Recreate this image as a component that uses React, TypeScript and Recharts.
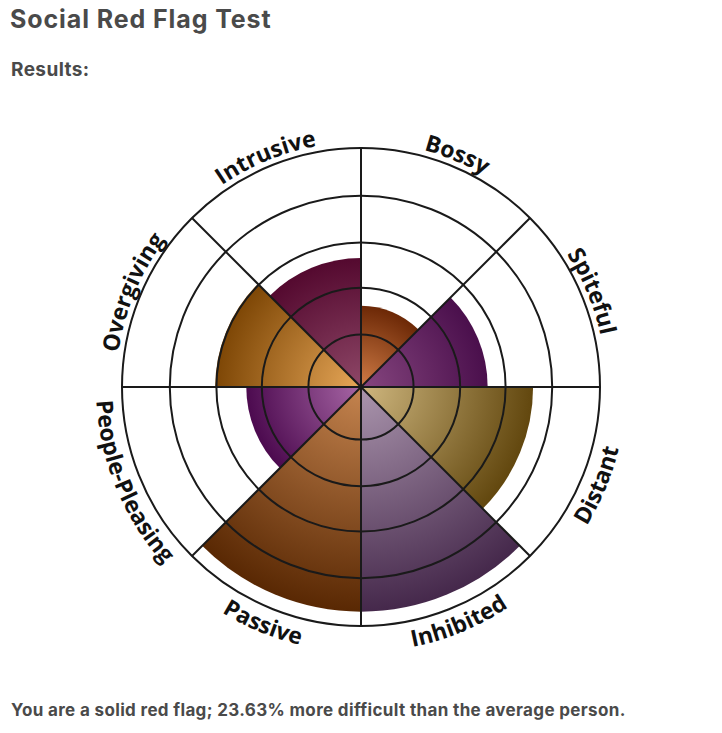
import React from 'react';
import { RadialBarChart, RadialBar, PolarGrid, PolarAngleAxis, PolarRadiusAxis, Sector } from 'recharts';

// clockwise from 12 o'clock
const traits = ['Bossy', 'Spiteful', 'Distant', 'Inhibited', 'Passive', 'People-Pleasing', 'Overgiving', 'Intrusive'];
const scores = [34, 53, 72, 94, 94, 48, 61, 54];
const innerColors = ['#d07c46', '#86467f', '#cfb77f', '#ab96ae', '#c5844f', '#a766a5', '#e7a758', '#8e4767'];
const outerColors = ['#6c2806', '#4a0f4c', '#62470e', '#45284b', '#592803', '#4c0a4f', '#7d4605', '#54092f'];
const ringTicks = [22, 41.5, 60.5, 80, 100];

const data = traits.map((name, i) => ({ name, value: scores[i] }));

const W = 722;
const H = 733;
const CX = 361;
const CY = 387;
const R = 239;
const FONT = 'Inter, "Noto Sans", sans-serif';
const STEP = 360 / traits.length;

const rad = (a: number) => (a * Math.PI) / 180;
const pt = (r: number, a: number) => [CX + r * Math.cos(rad(a)), CY - r * Math.sin(rad(a))];

const GradientSector = (props: any) => {
  const i = typeof props.index === 'number' ? props.index : traits.indexOf(props.payload?.name);
  const id = `rose-grad-${i}`;
  return (
    <g>
      <defs>
        <radialGradient id={id} gradientUnits="userSpaceOnUse" cx={props.cx} cy={props.cy} r={props.outerRadius}>
          <stop offset="0%" stopColor={innerColors[i]} />
          <stop offset="100%" stopColor={outerColors[i]} />
        </radialGradient>
      </defs>
      <Sector
        cx={props.cx}
        cy={props.cy}
        innerRadius={props.innerRadius}
        outerRadius={props.outerRadius}
        startAngle={props.startAngle}
        endAngle={props.endAngle}
        fill={`url(#${id})`}
        stroke="none"
      />
    </g>
  );
};

// labels follow the outer ring: upper half reads clockwise, lower half counter-clockwise
const CurvedLabel = (props: any) => {
  const name = props.payload?.value;
  const i = traits.indexOf(name);
  const mid = 90 - STEP * (i + 0.5);
  const upper = Math.sin(rad(mid)) > 0;
  const r = upper ? 245 : 265;
  const span = 70;
  const [a0, a1] = upper ? [mid + span, mid - span] : [mid - span, mid + span];
  const p0 = pt(r, a0);
  const p1 = pt(r, a1);
  const d = `M ${p0[0]} ${p0[1]} A ${r} ${r} 0 0 ${upper ? 1 : 0} ${p1[0]} ${p1[1]}`;
  const id = `label-path-${i}`;
  return (
    <g>
      <defs>
        <path id={id} d={d} />
      </defs>
      <text fontFamily='"Open Sans", sans-serif' fontWeight={700} fontSize={23} fill="#111">
        <textPath href={`#${id}`} startOffset="50%" textAnchor="middle">
          {name}
        </textPath>
      </text>
    </g>
  );
};

// recharts places the first centric band one step before startAngle, so start at 45 to begin at 12 o'clock
const chartProps = {
  width: W,
  height: H,
  data,
  layout: 'centric' as const,
  cx: CX,
  cy: CY,
  innerRadius: 0,
  outerRadius: R,
  startAngle: 90 - STEP,
  endAngle: -270 - STEP,
  barCategoryGap: 0,
  barGap: 0,
  margin: { top: 0, right: 0, bottom: 0, left: 0 },
};

export default function App() {
  return (
    <div style={{ position: 'absolute', left: 0, top: 0, width: W, height: H, background: '#fff', fontFamily: FONT, color: '#4a4a4a' }}>
      <div style={{ position: 'absolute', left: 10, top: 7, fontSize: 25, lineHeight: '25px', fontWeight: 700, letterSpacing: 0.9, whiteSpace: 'nowrap' }}>
        Social Red Flag Test
      </div>
      <div style={{ position: 'absolute', left: 11, top: 60, fontSize: 19, lineHeight: '19px', fontWeight: 700, letterSpacing: 0.4 }}>
        Results:
      </div>
      <div style={{ position: 'absolute', left: 0, top: 0 }}>
        <RadialBarChart {...chartProps}>
          <PolarAngleAxis type="category" dataKey="name" axisLine={false} tickLine={false} tick={CurvedLabel} />
          <PolarRadiusAxis type="number" domain={[0, 100]} ticks={ringTicks} tick={false} axisLine={false} />
          <RadialBar dataKey="value" shape={GradientSector} isAnimationActive={false} />
        </RadialBarChart>
      </div>
      {/* grid overlay so rings and spokes sit on top of the sectors */}
      <div style={{ position: 'absolute', left: 0, top: 0, pointerEvents: 'none' }}>
        <RadialBarChart {...chartProps}>
          <PolarAngleAxis type="category" dataKey="name" axisLine={false} tickLine={false} tick={false} />
          <PolarRadiusAxis type="number" domain={[0, 100]} ticks={ringTicks} tick={false} axisLine={false} />
          <RadialBar dataKey="value" fill="none" fillOpacity={0} isAnimationActive={false} />
          <PolarGrid
            gridType="circle"
            stroke="#1a1a1a"
            strokeWidth={2}
            polarAngles={traits.map((_, i) => 90 - STEP * i)}
          />
        </RadialBarChart>
      </div>
      <div style={{ position: 'absolute', left: 11, top: 702, fontSize: 17, lineHeight: '17px', fontWeight: 700, letterSpacing: 0.35, whiteSpace: 'nowrap' }}>
        You are a solid red flag; 23.63% more difficult than the average person.
      </div>
    </div>
  );
}
